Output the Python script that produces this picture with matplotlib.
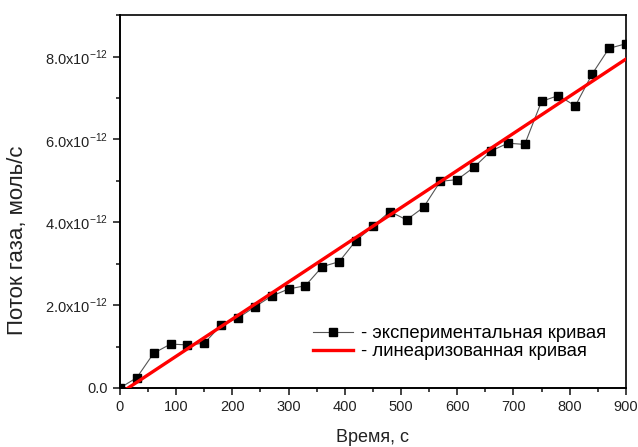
import numpy as np
import matplotlib
matplotlib.use('Agg')
import matplotlib.pyplot as plt
from matplotlib.ticker import FixedLocator, MultipleLocator, FuncFormatter

plt.rcParams['font.family'] = ['Liberation Sans', 'DejaVu Sans']
plt.rcParams['mathtext.fontset'] = 'custom'
plt.rcParams['mathtext.rm'] = 'Liberation Sans'

# экспериментальные точки (время, с / поток, 1e-12 моль/с)
time_s = [0, 30, 60, 90, 120, 150, 180, 210, 240, 270, 300, 330, 360, 390,
          420, 450, 480, 510, 540, 570, 600, 630, 660, 690, 720, 750, 780,
          810, 840, 870, 900]
flow = [0.0, 0.25, 0.84, 1.06, 1.04, 1.08, 1.52, 1.69, 1.96, 2.22, 2.39,
        2.47, 2.93, 3.05, 3.56, 3.90, 4.26, 4.06, 4.36, 4.99, 5.03, 5.33,
        5.72, 5.91, 5.88, 6.92, 7.06, 6.81, 7.58, 8.20, 8.31]

# линеаризованная кривая: концы отрезка
fit_t = [0, 900]
fit_flow = [-0.13, 7.94]

x_ticks = [0, 100, 200, 300, 400, 500, 600, 700, 800, 900]
y_ticks = [0, 2, 4, 6, 8]

scale = 1e-12
flow_abs = np.array(flow) * scale
fit_abs = np.array(fit_flow) * scale

fig = plt.figure(figsize=(6.38, 4.47), dpi=100)
ax = fig.add_axes([0.188, 0.132, 0.793, 0.834])

ax.plot(time_s, flow_abs, color='#555555', linewidth=0.8, linestyle='-',
        marker='s', markersize=6, markerfacecolor='black',
        markeredgecolor='black', label='- экспериментальная кривая',
        zorder=3)
ax.plot(fit_t, fit_abs, color='red', linewidth=2.4,
        label='- линеаризованная кривая', zorder=4)

ax.set_xlim(0, 900)
ax.set_ylim(0, 9e-12)

ax.xaxis.set_major_locator(FixedLocator(x_ticks))
ax.xaxis.set_minor_locator(MultipleLocator(50))
ax.yaxis.set_major_locator(FixedLocator([v * scale for v in y_ticks]))
ax.yaxis.set_minor_locator(MultipleLocator(1e-12))


def fmt_y(v, pos):
    m = v / scale
    if abs(m) < 1e-9:
        return '0.0'
    return r'%.1fx10$^{-12}$' % m


ax.yaxis.set_major_formatter(FuncFormatter(fmt_y))

ax.tick_params(which='both', direction='out', top=False, right=False,
               labelsize=10.5, width=1.2, colors='#222222')
ax.tick_params(which='major', length=5)
ax.tick_params(which='minor', length=3)

for side in ['left', 'bottom']:
    ax.spines[side].set_linewidth(1.4)
for side in ['top', 'right']:
    ax.spines[side].set_linewidth(1.2)

ax.set_xlabel('Время, с', fontsize=13, color='#222222', labelpad=11)
ax.set_ylabel('Поток газа, моль/с', fontsize=16, color='#222222')
ax.yaxis.set_label_coords(-0.182, 0.397)

ax.legend(loc='center left', bbox_to_anchor=(0.381, 0.121), frameon=False,
          fontsize=13.3, handlelength=2.2, handletextpad=0.4,
          labelspacing=0.05, borderaxespad=0, borderpad=0)

fig.savefig('out.png', dpi=100)
